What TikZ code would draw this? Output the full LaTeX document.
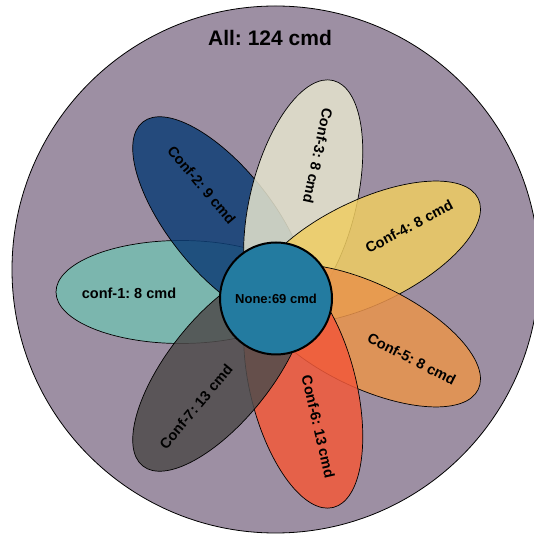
\documentclass[tikz,border=0pt]{standalone}
\usepackage{fontspec}
\setmainfont{Liberation Sans}
\frenchspacing
\begin{document}
\begin{tikzpicture}[x=1pt,y=1pt,
  petal/.style={draw=black, line width=0.7pt, fill opacity=0.85},
  lbl/.style={font=\fontsize{14.5}{16}\selectfont\bfseries, text=black, inner sep=0pt},
  allset/.style={draw=black, line width=0.8pt, fill=bgset},
  core/.style={circle, draw=black, line width=2pt, fill=corefill, minimum size=112pt, inner sep=0pt}]
\definecolor{bgset}{HTML}{9D8FA3}
\definecolor{corefill}{HTML}{237BA0}
\definecolor{cA}{HTML}{76BEB1}
\definecolor{cB}{HTML}{0F3F76}
\definecolor{cC}{HTML}{E5E4CE}
\definecolor{cD}{HTML}{EFCD62}
\definecolor{cE}{HTML}{E9944C}
\definecolor{cF}{HTML}{F2593A}
\definecolor{cG}{HTML}{4F4C4C}

\useasboundingbox (0,0) rectangle (533,535);

% outer set
\coordinate (O) at (275.5,265.5);
\draw[allset] (O) circle [radius=263.5];
\node[font=\fontsize{21}{24}\selectfont\bfseries] (title) at (270,497) {All: 124 cmd};

% petals
\coordinate (P) at (280,241);
\draw[petal, fill=cA] (181,243) ellipse [x radius=125, y radius=51.5];
\draw[petal, fill=cB, shift={(P)}, rotate=128.6] (96,0) ellipse [x radius=124, y radius=52];
\draw[petal, fill=cC, shift={(P)}, rotate=76] (96,0) ellipse [x radius=124, y radius=53];
\draw[petal, fill=cD, shift={(P)}, rotate=25.7] (96,0) ellipse [x radius=124, y radius=52];
\draw[petal, fill=cE, shift={(P)}, rotate=-25.7] (96,0) ellipse [x radius=124, y radius=52];
\draw[petal, fill=cF, shift={(P)}, rotate=-76] (96,0) ellipse [x radius=124, y radius=53];
\draw[petal, fill=cG, shift={(P)}, rotate=-128.6] (96,0) ellipse [x radius=124, y radius=52];

% petal labels
\node[lbl] (l1) at (129,242) {conf-1: 8 cmd};
\node[lbl, rotate=-50] (l2) at (201.7,350) {Conf-2: 9 cmd};
\node[lbl, rotate=-102] (l3) at (318,379) {Conf-3: 8 cmd};
\node[lbl, rotate=28] (l4) at (409,308.3) {Conf-4: 8 cmd};
\node[lbl, rotate=-27] (l5) at (411.7,176) {Conf-5: 8 cmd};
\node[lbl, rotate=-77] (l6) at (318.3,108.3) {Conf-6: 13 cmd};
\node[lbl, rotate=50] (l7) at (196,128.3) {Conf-7: 13 cmd};

% core
\node[core, font=\fontsize{13}{15}\selectfont\bfseries] (none) at (276,236.5) {None:69 cmd};
\end{tikzpicture}
\end{document}
